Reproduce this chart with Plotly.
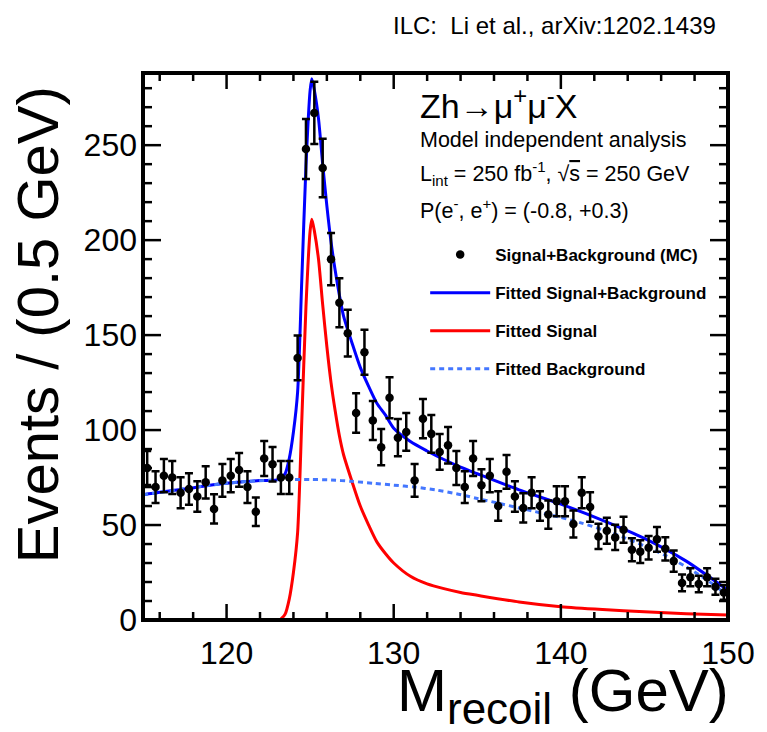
import numpy as np
import plotly.graph_objects as go

# ---------------- data ----------------
mass_bins = [115.25, 115.75, 116.25, 116.75, 117.25, 117.75, 118.25, 118.75, 119.25, 119.75,
             120.25, 120.75, 121.25, 121.75, 122.25, 122.75, 123.25, 123.75, 124.25, 124.75,
             125.25, 125.75, 126.25, 126.75, 127.25, 127.75, 128.25, 128.75, 129.25, 129.75,
             130.25, 130.75, 131.25, 131.75, 132.25, 132.75, 133.25, 133.75, 134.25, 134.75,
             135.25, 135.75, 136.25, 136.75, 137.25, 137.75, 138.25, 138.75, 139.25, 139.75,
             140.25, 140.75, 141.25, 141.75, 142.25, 142.75, 143.25, 143.75, 144.25, 144.75,
             145.25, 145.75, 146.25, 146.75, 147.25, 147.75, 148.25, 148.75, 149.25, 149.75]
events = [80, 70, 76, 75, 67, 69, 65, 72.5, 58.5, 73.5,
          76, 79, 70, 57, 85, 82, 75, 75, 138, 248,
          267, 238, 190, 167, 151, 109, 141, 105, 91, 117,
          96, 99, 73.5, 106, 98, 88.5, 92, 80, 70, 85,
          71, 76, 60, 78, 65, 59, 67, 60, 55.5, 62.5,
          62.5, 50.5, 67, 59.5, 44, 47, 43.5, 47.5, 37, 36,
          38, 42.5, 37.5, 31, 19.5, 22.5, 19, 22.5, 17.5, 14.5]
events_err = np.sqrt(np.array(events))  # Poisson uncertainties

total_x = [115, 116, 117.5, 119, 120, 121, 122, 123, 123.25, 123.5, 123.75, 124, 124.25, 124.5,
           124.75, 125, 125.1, 125.25, 125.5, 125.75, 126, 126.25, 126.5, 126.75, 127, 127.5,
           128, 128.5, 129, 129.5, 130, 131, 132, 133, 134, 135, 137.5, 140, 142.5, 145, 147.5, 150]
total_y = [66, 67.3, 69, 71, 72, 72.8, 73.4, 73.8, 75, 77, 85, 99, 120, 179,
           239, 279, 285, 279, 264, 240, 218, 199, 184, 171, 160, 146,
           133, 123, 114, 108, 101, 94, 89, 84.5, 80.5, 77, 68.5, 61, 52.5, 43, 31, 15.6]

signal_x = [123.2, 123.5, 123.75, 124.0, 124.25, 124.5, 124.75, 125.0, 125.1, 125.25,
            125.5, 125.75, 126.0, 126.25, 126.5, 126.75, 127.0, 127.5, 128, 128.5, 129, 129.5,
            130, 131, 132, 133, 134, 135, 137.5, 140, 142.5, 145, 147.5, 150]
signal_y = [0, 3, 11, 25, 46, 105, 165, 205, 211, 205,
            190, 166, 144, 125, 110, 97, 87, 73, 60, 50, 41, 35,
            30, 23, 19, 16.5, 14.5, 13, 9.5, 7, 5.5, 4.3, 3.3, 2.6]

bkg_x = [115, 116.25, 117.5, 118.75, 120, 121.25, 122.5, 123.75, 125, 126.25, 127.5, 128.75,
         130, 131.25, 132.5, 133.75, 135, 136.25, 137.5, 138.75, 140, 141.25, 142.5, 143.75,
         145, 146.25, 147.5, 148.75, 150]
bkg_y = [66, 67.5, 69.2, 70.7, 72, 73, 73.6, 74, 74, 73.7, 73, 72,
         71, 70, 68.5, 66.5, 64, 61.5, 59, 56.5, 54, 51, 47.5, 43.5,
         39, 34, 28, 21, 13]

x_ticks = [120, 130, 140, 150]
y_ticks = [0, 50, 100, 150, 200, 250]
x_minor_ticks = [116, 118, 122, 124, 126, 128, 132, 134, 136, 138, 142, 144, 146, 148]
y_minor_ticks = [10, 20, 30, 40, 60, 70, 80, 90, 110, 120, 130, 140, 160, 170, 180, 190,
                 210, 220, 230, 240, 260, 270, 280]
x_range = [115, 150]
y_range = [0, 288]

# ---------------- figure ----------------
FONT = "Liberation Sans, Arial, Helvetica, sans-serif"
W, H = 767, 732
L, R, T, B = 143, 738, 73, 620


def px(xp):
    return (xp - L) / (R - L)


def py(yp):
    return (B - yp) / (B - T)


fig = go.Figure()

fig.add_trace(go.Scatter(
    x=total_x, y=total_y, mode="lines", name="Fitted Signal+Background",
    line=dict(color="#0000ff", width=3, shape="spline", smoothing=0.7),
    legendgroup="g2", legendrank=2))
fig.add_trace(go.Scatter(
    x=signal_x, y=signal_y, mode="lines", name="Fitted Signal",
    line=dict(color="#ff0000", width=3, shape="spline", smoothing=0.7),
    legendgroup="g3", legendrank=3))
fig.add_trace(go.Scatter(
    x=bkg_x, y=bkg_y, mode="lines", name="Fitted Background",
    line=dict(color="#4477ff", width=3, dash="5px,4px", shape="spline", smoothing=0.7),
    legendgroup="g4", legendrank=4))
fig.add_trace(go.Scatter(
    x=mass_bins, y=events, mode="markers", name="Signal+Background (MC)",
    marker=dict(color="black", size=8.5),
    error_y=dict(type="data", array=events_err, color="black", thickness=2.5, width=4),
    legendgroup="g1", legendrank=1))

tickfont = dict(family=FONT, size=32, color="black")

fig.update_xaxes(range=x_range, tickvals=x_ticks, showline=False, ticks="",
                 showgrid=False, zeroline=False, tickfont=tickfont, ticklabelstandoff=11)
fig.update_yaxes(range=y_range, tickvals=y_ticks, showline=False, ticks="",
                 showgrid=False, zeroline=False, tickfont=tickfont, ticklabelstandoff=5)

# frame and tick marks (inside, mirrored on all four sides), placed via the axis scales
shapes = [dict(type="rect", xref="paper", yref="paper", x0=0, x1=1, y0=0, y1=1,
               line=dict(color="black", width=4), layer="above")]
tick_line = dict(color="black", width=2.5)
for v, ln in [(t, 16) for t in x_ticks] + [(t, 8) for t in x_minor_ticks]:
    shapes.append(dict(type="line", xref="x", yref="y", x0=v, x1=v,
                       ysizemode="pixel", yanchor=y_range[0], y0=0, y1=ln, line=tick_line))
    shapes.append(dict(type="line", xref="x", yref="y", x0=v, x1=v,
                       ysizemode="pixel", yanchor=y_range[1], y0=0, y1=-ln, line=tick_line))
for v, ln in [(t, 18) for t in y_ticks] + [(t, 9) for t in y_minor_ticks]:
    shapes.append(dict(type="line", xref="x", yref="y", y0=v, y1=v,
                       xsizemode="pixel", xanchor=x_range[0], x0=0, x1=ln, line=tick_line))
    shapes.append(dict(type="line", xref="x", yref="y", y0=v, y1=v,
                       xsizemode="pixel", xanchor=x_range[1], x0=0, x1=-ln, line=tick_line))

annotations = [
    dict(text="ILC:  Li et al., arXiv:1202.1439", x=px(728), y=py(25), xanchor="right",
         yanchor="middle", font=dict(family=FONT, size=24)),
    dict(text="Events / (0.5 GeV)", x=px(36), y=py(84), xanchor="center", yanchor="top",
         textangle=-90, font=dict(family=FONT, size=58)),
    dict(text="M<sub><span style='font-size:44px'>recoil</span></sub> (GeV)", x=px(741), y=py(695),
         xanchor="right", yanchor="middle", font=dict(family=FONT, size=60)),
    dict(text="Zh→μ<sup>+</sup>μ<sup>-</sup>X", x=px(423), y=py(103), xanchor="left",
         yanchor="middle", font=dict(family=FONT, size=34)),
    dict(text="Model independent analysis", x=px(423), y=py(140), xanchor="left",
         yanchor="middle", font=dict(family=FONT, size=21.5)),
    dict(text="L<sub>int</sub> = 250 fb<sup>-1</sup>, √<span style='text-decoration:overline'>s</span> = 250 GeV",
         x=px(423), y=py(173), xanchor="left", yanchor="middle", font=dict(family=FONT, size=21.5)),
    dict(text="P(e<sup>-</sup>, e<sup>+</sup>) = (-0.8, +0.3)", x=px(423), y=py(209), xanchor="left",
         yanchor="middle", font=dict(family=FONT, size=21.5)),
]
for a in annotations:
    a.update(xref="paper", yref="paper", showarrow=False)
    a["font"]["color"] = "black"

fig.update_layout(
    width=W, height=H,
    margin=dict(l=L, r=W - R, t=T, b=H - B),
    paper_bgcolor="white", plot_bgcolor="white",
    showlegend=True,
    legend=dict(x=px(430), y=py(237), xanchor="left", yanchor="top",
                bgcolor="rgba(0,0,0,0)", tracegroupgap=13,
                font=dict(family=FONT, size=17, color="black", weight="bold"),
                itemwidth=60),
    annotations=annotations,
    shapes=shapes,
)

fig.write_html("out.html")
